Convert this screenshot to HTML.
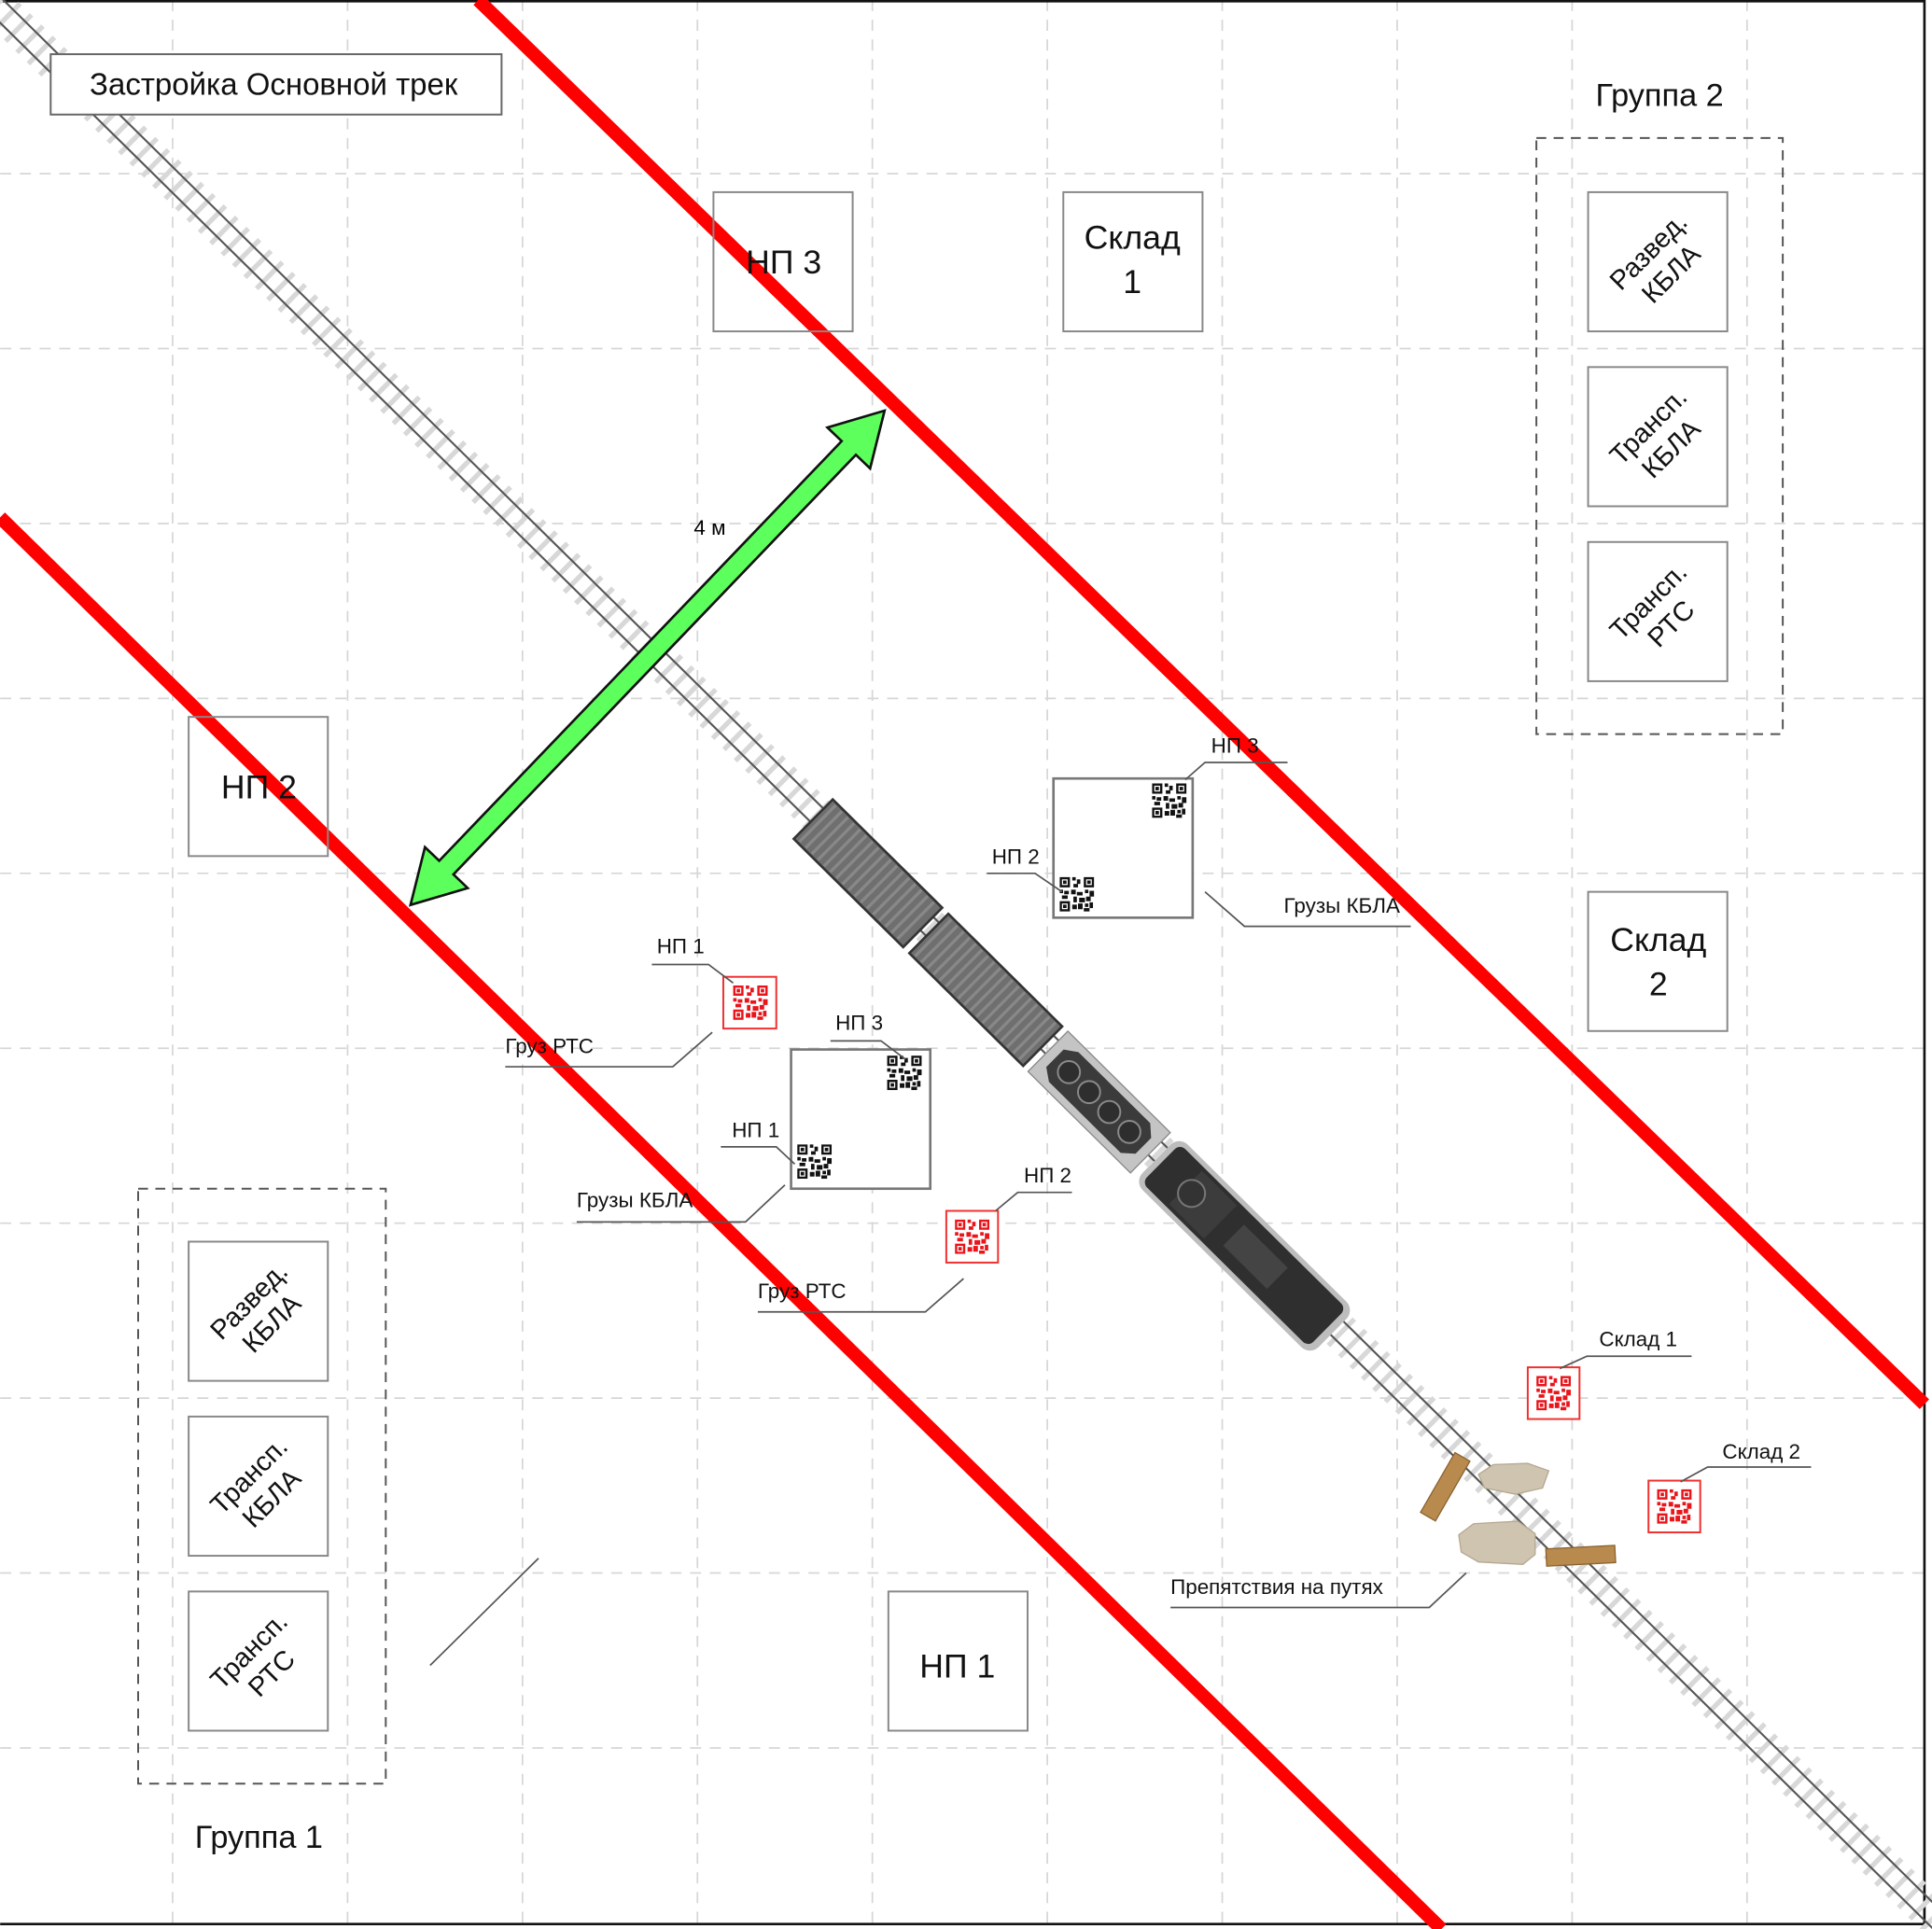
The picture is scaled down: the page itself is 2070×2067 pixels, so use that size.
<!DOCTYPE html>
<html><head><meta charset="utf-8"><style>
html,body{margin:0;padding:0;background:#fff}
svg{display:block}
text{font-family:"Liberation Sans",sans-serif}
</style></head><body>
<svg width="2070" height="2067" viewBox="0 0 1568 1566" xmlns="http://www.w3.org/2000/svg">
<defs>
<symbol id="qr" viewBox="0 0 30 30">
<g fill="currentColor">
<path d="M0 0h9v9H0zM2 2v5h5V2zM3 3h3v3H3z" fill-rule="evenodd"/>
<path d="M21 0h9v9h-9zM23 2v5h5V2zM24 3h3v3h-3z" fill-rule="evenodd"/>
<path d="M0 21h9v9H0zM2 23v5h5v-5zM3 24h3v3H3z" fill-rule="evenodd"/>
<rect x="11" y="0" width="3" height="3"/><rect x="15" y="2" width="3" height="4"/><rect x="12" y="6" width="4" height="3"/>
<rect x="0" y="11" width="3" height="3"/><rect x="4" y="12" width="4" height="3"/><rect x="2" y="16" width="5" height="3"/>
<rect x="10" y="11" width="4" height="4"/><rect x="15" y="13" width="5" height="3"/><rect x="12" y="17" width="3" height="5"/>
<rect x="17" y="18" width="5" height="4"/><rect x="22" y="11" width="3" height="3"/><rect x="26" y="12" width="4" height="5"/>
<rect x="23" y="17" width="4" height="4"/><rect x="11" y="24" width="4" height="4"/><rect x="16" y="23" width="4" height="5"/>
<rect x="22" y="23" width="3" height="3"/><rect x="26" y="22" width="3" height="5"/><rect x="21" y="27" width="5" height="3"/>
</g>
</symbol>
</defs>
<rect width="1568" height="1566" fill="#fff"/>
<!-- grid -->
<g stroke="#d6d6d6" stroke-width="1.3" stroke-dasharray="9 7">
<line x1="140" y1="0" x2="140" y2="1562"/><line x1="282" y1="0" x2="282" y2="1562"/><line x1="424" y1="0" x2="424" y2="1562"/><line x1="566" y1="0" x2="566" y2="1562"/><line x1="708" y1="0" x2="708" y2="1562"/><line x1="850" y1="0" x2="850" y2="1562"/><line x1="992" y1="0" x2="992" y2="1562"/><line x1="1134" y1="0" x2="1134" y2="1562"/><line x1="1276" y1="0" x2="1276" y2="1562"/><line x1="1418" y1="0" x2="1418" y2="1562"/>
<line x1="0" y1="141" x2="1562" y2="141"/><line x1="0" y1="283" x2="1562" y2="283"/><line x1="0" y1="425" x2="1562" y2="425"/><line x1="0" y1="567" x2="1562" y2="567"/><line x1="0" y1="709" x2="1562" y2="709"/><line x1="0" y1="851" x2="1562" y2="851"/><line x1="0" y1="993" x2="1562" y2="993"/><line x1="0" y1="1135" x2="1562" y2="1135"/><line x1="0" y1="1277" x2="1562" y2="1277"/><line x1="0" y1="1419" x2="1562" y2="1419"/>
</g>
<!-- frame -->
<path d="M0 1H1562V1562H0" fill="none" stroke="#111" stroke-width="2"/>
<!-- track -->
<g transform="translate(0,8) rotate(44.6)">
<line x1="-20" y1="0" x2="2220" y2="0" stroke="#d8d8d8" stroke-width="30" stroke-dasharray="4 9"/>
<line x1="-20" y1="-7.5" x2="2220" y2="-7.5" stroke="#555" stroke-width="1.6"/>
<line x1="-20" y1="7.5" x2="2220" y2="7.5" stroke="#555" stroke-width="1.6"/>
</g>
<!-- train -->
<g transform="translate(660,665) rotate(44.7)">
<rect x="0" y="-22.5" width="125" height="45" fill="#6f6f6f" stroke="#333" stroke-width="2"/>
<g stroke="#888" stroke-width="2.5"><path d="M5 -21V21M12 -21V21M19 -21V21M26 -21V21M33 -21V21M40 -21V21M47 -21V21M54 -21V21M61 -21V21M68 -21V21M75 -21V21M82 -21V21M89 -21V21M96 -21V21M103 -21V21M110 -21V21M117 -21V21"/></g>
<rect x="132" y="-22.5" width="130" height="45" fill="#6f6f6f" stroke="#333" stroke-width="2"/>
<g stroke="#888" stroke-width="2.5"><path d="M137 -21V21M144 -21V21M151 -21V21M158 -21V21M165 -21V21M172 -21V21M179 -21V21M186 -21V21M193 -21V21M200 -21V21M207 -21V21M214 -21V21M221 -21V21M228 -21V21M235 -21V21M242 -21V21M249 -21V21M256 -21V21"/></g>
<rect x="268" y="-23" width="117" height="46" fill="#c4c4c4" stroke="#888"/>
<path d="M276 -10L286 -17H368L377 -9V9L368 17H286L276 10Z" fill="#3b3b3b"/>
<g fill="#2e2e2e" stroke="#8a8a8a" stroke-width="1.5"><circle cx="292" cy="0" r="9"/><circle cx="315" cy="0" r="9"/><circle cx="338" cy="0" r="9"/><circle cx="361" cy="0" r="9"/></g>
<rect x="392" y="-26" width="201" height="52" rx="10" fill="#bdbdbd"/>
<rect x="397" y="-22" width="190" height="44" rx="6" fill="#2f2f2f"/>
<rect x="425" y="-19" width="40" height="38" fill="#3c3c3c"/>
<circle cx="432" cy="0" r="11" fill="#333" stroke="#777" stroke-width="1.5"/>
<rect x="480" y="-12" width="50" height="24" fill="#444"/>
</g>
<!-- red lines -->
<line x1="388" y1="0" x2="1562" y2="1140" stroke="#ff0000" stroke-width="11"/>
<line x1="0" y1="420" x2="1170" y2="1566" stroke="#ff0000" stroke-width="11"/>
<!-- green arrow -->
<g transform="translate(525.5,534) rotate(-46.2)">
<path d="M-278 0L-236 -24V-8H236V-24L278 0L236 24V8H-236V24Z" fill="#5cff5c" stroke="#111" stroke-width="2"/>
</g>
<text x="576" y="434" font-size="17" text-anchor="middle">4 м</text>
<!-- title -->
<rect x="41" y="44" width="366" height="49" fill="#fff" stroke="#666" stroke-width="1.5"/>
<text x="222" y="77" font-size="25" text-anchor="middle" fill="#111">Застройка Основной трек</text>
<!-- boxes -->
<g fill="#fff" stroke="#888" stroke-width="1.5" fill-opacity="0">
<rect x="579" y="156" width="113" height="113"/>
<rect x="863" y="156" width="113" height="113"/>
<rect x="1289" y="156" width="113" height="113"/>
<rect x="1289" y="298" width="113" height="113"/>
<rect x="1289" y="440" width="113" height="113"/>
<rect x="153" y="582" width="113" height="113"/>
<rect x="1289" y="724" width="113" height="113"/>
<rect x="153" y="1008" width="113" height="113"/>
<rect x="153" y="1150" width="113" height="113"/>
<rect x="153" y="1292" width="113" height="113"/>
<rect x="721" y="1292" width="113" height="113"/>
</g>
<g fill="none" stroke="#555" stroke-width="1.5" stroke-dasharray="8 6">
<rect x="1247" y="112" width="200" height="484"/>
<rect x="112" y="965" width="201" height="483"/>
</g>
<g font-size="27" text-anchor="middle" fill="#111">
<text x="636" y="222">НП 3</text>
<text x="919" y="202">Склад</text><text x="919" y="238">1</text>
<text x="210" y="648">НП 2</text>
<text x="1346" y="772">Склад</text><text x="1346" y="808">2</text>
<text x="777" y="1362">НП 1</text>
<text x="1347" y="86" font-size="26">Группа 2</text>
<text x="210" y="1500" font-size="26">Группа 1</text>
</g>
<g font-size="22" text-anchor="middle" fill="#111">
<g transform="translate(1346,212) rotate(-45)"><text y="-4">Развед.</text><text y="22">КБЛА</text></g>
<g transform="translate(1346,354) rotate(-45)"><text y="-4">Трансп.</text><text y="22">КБЛА</text></g>
<g transform="translate(1346,496) rotate(-45)"><text y="-4">Трансп.</text><text y="22">РТС</text></g>
<g transform="translate(210,1064) rotate(-45)"><text y="-4">Развед.</text><text y="22">КБЛА</text></g>
<g transform="translate(210,1206) rotate(-45)"><text y="-4">Трансп.</text><text y="22">КБЛА</text></g>
<g transform="translate(210,1348) rotate(-45)"><text y="-4">Трансп.</text><text y="22">РТС</text></g>
</g>
<!-- cargo boxes -->
<rect x="855" y="632" width="113" height="113" fill="#fff" stroke="#777" stroke-width="2"/>
<use href="#qr" x="935" y="636" width="28" height="28" color="#111"/>
<use href="#qr" x="860" y="712" width="28" height="28" color="#111"/>
<rect x="642" y="852" width="113" height="113" fill="#fff" stroke="#777" stroke-width="2"/>
<use href="#qr" x="720" y="857" width="28" height="28" color="#111"/>
<use href="#qr" x="647" y="929" width="28" height="28" color="#111"/>
<!-- red QR -->
<g fill="#fff" stroke="#f03030" stroke-width="1.5">
<rect x="587" y="793" width="43" height="42"/>
<rect x="768" y="983" width="42" height="42"/>
<rect x="1240" y="1110" width="42" height="42"/>
<rect x="1338" y="1202" width="42" height="42"/>
</g>
<use href="#qr" x="595" y="800" width="28" height="28" color="#e8151b"/>
<use href="#qr" x="775" y="990" width="28" height="28" color="#e8151b"/>
<use href="#qr" x="1247" y="1117" width="28" height="28" color="#e8151b"/>
<use href="#qr" x="1345" y="1209" width="28" height="28" color="#e8151b"/>
<!-- obstacles -->
<g transform="translate(1173,1207) rotate(-60)"><rect x="-28" y="-7" width="56" height="14" fill="#b98a4e" stroke="#8a6330"/></g>
<g transform="translate(1283,1263) rotate(-3)"><rect x="-28" y="-7" width="56" height="14" fill="#b98a4e" stroke="#8a6330"/></g>
<path d="M1200 1197L1212 1189L1240 1188L1257 1194L1252 1208L1230 1213L1205 1208Z" fill="#cfc4b0" stroke="#b5a890"/>
<path d="M1184 1246L1196 1237L1232 1235L1246 1245L1246 1262L1236 1270L1200 1268L1186 1260Z" fill="#cfc4b0" stroke="#b5a890"/>
<!-- leaders -->
<g fill="none" stroke="#555" stroke-width="1.3">
<path d="M962 633L978 619H1045"/>
<path d="M801 709H840L862 724"/>
<path d="M978 724L1010 752H1145"/>
<path d="M674 845H715L735 860"/>
<path d="M585 931H630L645 945"/>
<path d="M637 962L605 992H468"/>
<path d="M529 783H575L595 798"/>
<path d="M578 838L546 866H410"/>
<path d="M808 983L826 968H870"/>
<path d="M782 1038L751 1065H615"/>
<path d="M1266 1111L1288 1101H1373"/>
<path d="M1364 1203L1386 1191H1470"/>
<path d="M1190 1277L1160 1305H950"/>
<path d="M349 1352L437 1265"/>
</g>
<g font-size="17" fill="#111">
<text x="983" y="611">НП 3</text>
<text x="805" y="701">НП 2</text>
<text x="1042" y="741">Грузы КБЛА</text>
<text x="678" y="836">НП 3</text>
<text x="594" y="923">НП 1</text>
<text x="468" y="980">Грузы КБЛА</text>
<text x="533" y="774">НП 1</text>
<text x="410" y="855">Груз РТС</text>
<text x="831" y="960">НП 2</text>
<text x="615" y="1054">Груз РТС</text>
<text x="1298" y="1093">Склад 1</text>
<text x="1398" y="1184">Склад 2</text>
<text x="950" y="1294">Препятствия на путях</text>
</g>
</svg>
</body></html>
